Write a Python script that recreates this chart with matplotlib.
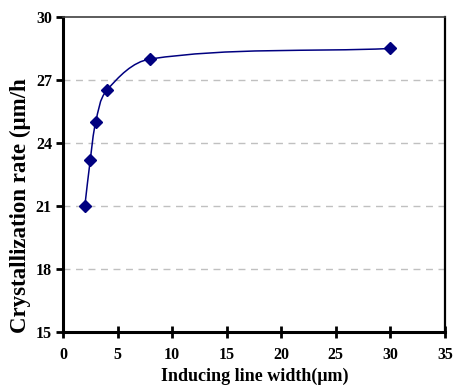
import numpy as np
import matplotlib
matplotlib.use('Agg')
import matplotlib.pyplot as plt
from matplotlib.path import Path
from matplotlib.patches import PathPatch

# Data
line_width = [2, 2.5, 3, 4, 8, 30]
cryst_rate = [21.0, 23.2, 25.0, 26.5, 28.0, 28.5]

x_ticks = [0, 5, 10, 15, 20, 25, 30, 35]
y_ticks = [15, 18, 21, 24, 27, 30]

plt.rcParams['font.family'] = ['Liberation Serif', 'DejaVu Serif']
plt.rcParams['font.weight'] = 'bold'

fig = plt.figure(figsize=(4.53, 3.85), dpi=100)
ax = fig.add_axes([63 / 453, 1 - 332 / 385, (445 - 63) / 453, (332 - 17) / 385])

color = '#000080'


def smooth_path(xs, ys):
    # smoothed line: cubic bezier through each point, handle length scaled
    # by segment length so the bends stay round
    p = np.column_stack([xs, ys]).astype(float)
    n = len(p)
    tang = []
    for i in range(n):
        d = p[min(i + 1, n - 1)] - p[max(i - 1, 0)]
        tang.append(d / np.hypot(*d))
    verts = [tuple(p[0])]
    codes = [Path.MOVETO]
    for i in range(n - 1):
        seg = np.hypot(*(p[i + 1] - p[i])) / 3
        c1 = p[i] + tang[i] * seg
        c2 = p[i + 1] - tang[i + 1] * seg
        verts += [tuple(c1), tuple(c2), tuple(p[i + 1])]
        codes += [Path.CURVE4] * 3
    return Path(verts, codes)


ax.set_xlim(0, 35)
ax.set_ylim(15, 30)
fig.canvas.draw()
pts = ax.transData.transform(np.column_stack([line_width, cryst_rate]))
path = smooth_path(pts[:, 0], pts[:, 1])
patch = PathPatch(path, facecolor='none', edgecolor=color, lw=1.1,
                  transform=None, zorder=3)
ax.add_artist(patch)

ax.plot(line_width, cryst_rate, linestyle='none', marker='D', markersize=5.8,
        color=color, zorder=4)

for y in y_ticks[1:-1]:
    ax.axhline(y, color='#c0c0c0', lw=1, dashes=(5, 4), zorder=1)

ax.set_xticks(x_ticks)
ax.set_yticks(y_ticks)
ax.tick_params(axis='x', direction='inout', length=8, width=2, labelsize=11.5, pad=7)
ax.tick_params(axis='y', direction='out', length=5, width=2, labelsize=11.5, pad=3)

for side in ['left', 'bottom']:
    ax.spines[side].set_linewidth(2.2)
ax.spines['right'].set_linewidth(1.6)
ax.spines['top'].set_linewidth(1.2)
ax.spines['top'].set_color('#404040')

fig.text(255 / 453, 1 - 376 / 385, 'Inducing line width(μm)', ha='center',
         va='center', fontsize=13, fontweight='bold')
fig.text(20 / 453, 1 - 206 / 385, 'Crystallization rate (μm/h', ha='center',
         va='center', rotation=90, fontsize=16.5, fontweight='bold')

fig.savefig('out.png', dpi=100)
